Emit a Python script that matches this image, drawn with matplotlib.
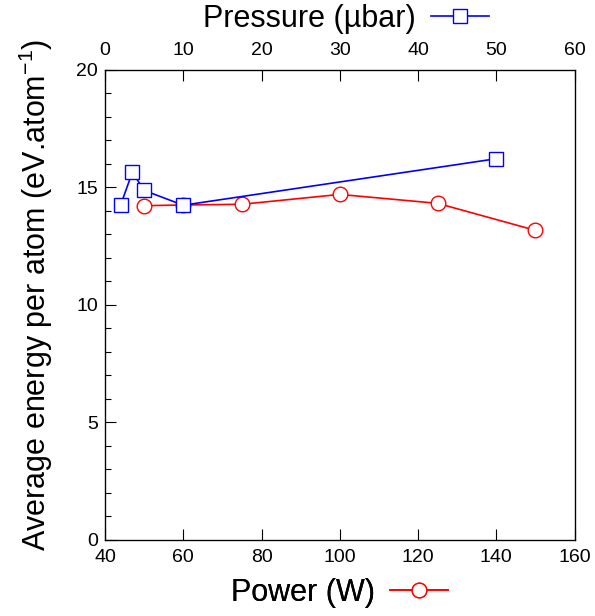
import matplotlib
matplotlib.use("Agg")
import matplotlib.pyplot as plt
from matplotlib.ticker import MultipleLocator

plt.rcParams["font.family"] = ["Liberation Sans", "DejaVu Sans"]
plt.rcParams["mathtext.fontset"] = "custom"
plt.rcParams["mathtext.rm"] = "Liberation Sans"
plt.rcParams["mathtext.it"] = "Liberation Sans:italic"

# energy vs power (bottom axis)
power_w = [50, 60, 75, 100, 125, 150]
energy_power = [14.22, 14.25, 14.28, 14.70, 14.32, 13.17]

# energy vs pressure (top axis)
pressure_ubar = [2, 3.5, 5, 10, 50]
energy_pressure = [14.25, 15.65, 14.87, 14.24, 16.22]

power_ticks = [40, 60, 80, 100, 120, 140, 160]
pressure_ticks = [0, 10, 20, 30, 40, 50, 60]
energy_ticks = [0, 5, 10, 15, 20]

RED = "#ff0000"
BLUE = "#0000ff"
MS = 10.5


def main():
    fig = plt.figure(figsize=(5.95, 6.16), dpi=100)
    ax = fig.add_axes([105 / 595, 1 - 539.5 / 616, 469.5 / 595, 469.5 / 616])

    red_line, = ax.plot(power_w, energy_power, color=RED, lw=1.2, marker="o",
                        ms=MS, mfc="white", mec=RED, mew=1.0)
    ax.set_xlim(40, 160)
    ax.set_ylim(0, 20)
    ax.set_xticks(power_ticks)
    ax.set_yticks(energy_ticks)
    ax.yaxis.set_minor_locator(MultipleLocator(1))
    ax.tick_params(axis="both", which="both", direction="in", labelsize=14,
                   right=False, top=False)
    ax.tick_params(axis="both", which="major", length=8, width=0.8)
    ax.tick_params(axis="y", which="minor", length=4.5, width=0.8)
    ax.tick_params(axis="x", pad=7)
    ax.tick_params(axis="y", pad=5)
    for s in ax.spines.values():
        s.set_linewidth(0.9)

    ax.set_ylabel("Average energy per atom (eV.atom$^{-1}$)", fontsize=22)
    ax.yaxis.label.set_va("center")
    ax.yaxis.set_label_coords(-0.147, 0.52)

    ax2 = ax.twiny()
    blue_line, = ax2.plot(pressure_ubar, energy_pressure, color=BLUE, lw=1.2,
                          marker="s", ms=MS, mfc="white", mec=BLUE, mew=1.0)
    ax2.set_xlim(0, 60)
    ax2.set_xticks(pressure_ticks)
    ax2.tick_params(axis="x", which="major", direction="in", length=8,
                    width=0.8, labelsize=14, pad=8)

    leg_kw = dict(loc="center", frameon=False, fontsize=22, markerfirst=False,
                  handlelength=1.9, handletextpad=0.5, borderpad=0)
    leg_bottom = ax.legend([red_line], ["Power (W)"],
                           bbox_to_anchor=(0.5, -0.114), **leg_kw)
    ax.add_artist(leg_bottom)
    ax2.legend([blue_line], ["Pressure (\u00b5bar)"],
               bbox_to_anchor=(0.513, 1.109), **leg_kw)

    fig.savefig("out.png", dpi=100)


if __name__ == "__main__":
    main()
